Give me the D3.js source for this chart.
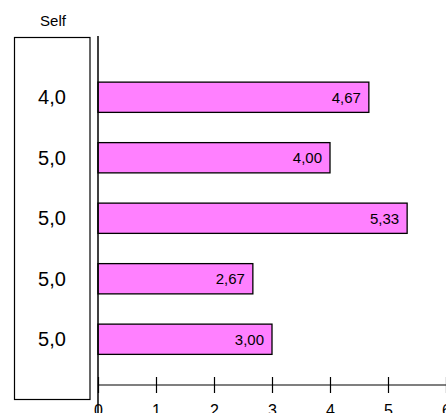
<!DOCTYPE html>
<html>
<head>
<meta charset="utf-8">
<script src="https://cdn.jsdelivr.net/npm/d3@7"></script>
<style>
  body { margin: 0; background: #fff; }
  svg { display: block; font-family: "Liberation Sans", Arial, sans-serif; }
</style>
</head>
<body>
<svg id="chart" width="446" height="413"></svg>
<script>
// data
const items = ["q1", "q2", "q3", "q4", "q5"];
const scores = [4.67, 4.00, 5.33, 2.67, 3.00];
const selfScores = [4.0, 5.0, 5.0, 5.0, 5.0];
const xTicks = [0, 1, 2, 3, 4, 5, 6];

const fmt = (v, d) => v.toFixed(d).replace(".", ",");

const svg = d3.select("#chart");

const x = d3.scaleLinear().domain([0, 6]).range([98, 446]);
const y = d3.scaleBand().domain(items).range([67, 369.5])
  .paddingInner(0.5).paddingOuter(0.25);

// self box
svg.append("text")
  .attr("x", 53).attr("y", 26)
  .attr("text-anchor", "middle")
  .attr("font-size", 15)
  .text("Self");

svg.append("rect")
  .attr("x", 14.5).attr("y", 37.5)
  .attr("width", 75.5).attr("height", 362)
  .attr("fill", "#fff").attr("stroke", "#000").attr("stroke-width", 1.2);

svg.append("g").selectAll("text")
  .data(items)
  .join("text")
  .attr("x", 52)
  .attr("y", d => y(d) + y.bandwidth() / 2)
  .attr("dy", "0.36em")
  .attr("text-anchor", "middle")
  .attr("font-size", 20)
  .text((d, i) => fmt(selfScores[i], 1));

// bars
const bars = svg.append("g");
bars.selectAll("rect")
  .data(items)
  .join("rect")
  .attr("x", x(0))
  .attr("y", d => y(d))
  .attr("width", (d, i) => x(scores[i]) - x(0))
  .attr("height", y.bandwidth())
  .attr("fill", "#ff80ff")
  .attr("stroke", "#000")
  .attr("stroke-width", 1.3);

bars.selectAll("text")
  .data(items)
  .join("text")
  .attr("x", (d, i) => x(scores[i]) - 8)
  .attr("y", d => y(d) + y.bandwidth() / 2)
  .attr("dy", "0.36em")
  .attr("text-anchor", "end")
  .attr("font-size", 15)
  .text((d, i) => fmt(scores[i], 2));

// vertical axis line
svg.append("line")
  .attr("x1", x(0)).attr("x2", x(0))
  .attr("y1", 36).attr("y2", 413)
  .attr("stroke", "#000").attr("stroke-width", 1.5);

// x axis
const xAxis = d3.axisBottom(x)
  .tickValues(xTicks)
  .tickSize(0)
  .tickFormat(d => d);

const ax = svg.append("g")
  .attr("transform", "translate(0,385)")
  .call(xAxis);
ax.select(".domain").remove();
ax.selectAll(".tick line").remove();
ax.selectAll(".tick").append("line")
  .attr("y1", -8).attr("y2", 8)
  .attr("stroke", "#000").attr("stroke-width", 1.2);
ax.append("line")
  .attr("x1", x(0)).attr("x2", x(6))
  .attr("stroke", "#000").attr("stroke-width", 1.2);
ax.selectAll(".tick text")
  .attr("y", 31)
  .attr("dy", null)
  .attr("font-size", 16)
  .attr("font-family", "Liberation Sans, Arial, sans-serif")
  .attr("fill", "#000");
</script>
</body>
</html>
